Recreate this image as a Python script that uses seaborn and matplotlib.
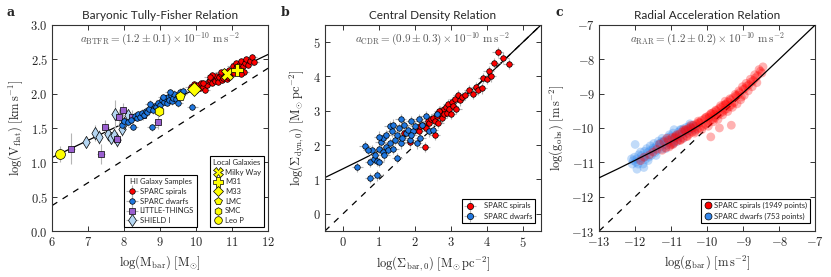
#!/usr/bin/env python
# -*- coding: utf-8 -*-

"""
Three scaling relations of rotating galaxies: BTFR, CDR and RAR
"""

import matplotlib
matplotlib.use("Agg")
import matplotlib.pyplot as plt
from matplotlib.lines import Line2D
from matplotlib.ticker import FuncFormatter, MultipleLocator
import seaborn as sns

# ---------------- panel a : baryonic Tully-Fisher ----------------
spiral_m = [9.85, 9.95, 10.00, 10.05, 10.10, 10.15, 10.20, 10.25, 10.30, 10.35,
            10.40, 10.45, 10.50, 10.52, 10.55, 10.60, 10.62, 10.65, 10.70, 10.72,
            10.75, 10.80, 10.82, 10.85, 10.90, 10.92, 10.95, 11.00, 11.02, 11.05,
            11.10, 11.12, 11.15, 11.20, 11.22, 11.25, 11.30, 11.32, 11.35, 11.40,
            11.45, 11.50, 11.55, 11.60, 10.45, 10.20, 10.90, 11.25, 10.38, 10.68]
spiral_v = [2.10, 2.14, 2.06, 2.12, 2.08, 2.15, 2.10, 2.05, 2.13, 2.18,
            2.20, 2.16, 2.22, 2.19, 2.25, 2.21, 2.17, 2.24, 2.28, 2.20,
            2.23, 2.32, 2.26, 2.21, 2.30, 2.35, 2.27, 2.33, 2.40, 2.30,
            2.38, 2.44, 2.34, 2.42, 2.36, 2.47, 2.40, 2.32, 2.45, 2.50,
            2.42, 2.48, 2.53, 2.46, 2.27, 2.16, 2.24, 2.29, 2.24, 2.31]

dwarf_m = [7.95, 8.00, 8.10, 8.20, 8.25, 8.30, 8.35, 8.40, 8.45, 8.50,
           8.55, 8.60, 8.65, 8.70, 8.78, 8.80, 8.85, 8.90, 8.95, 9.00,
           9.05, 9.10, 9.15, 9.20, 9.22, 9.25, 9.30, 9.32, 9.35, 9.40,
           9.45, 9.50, 9.55, 9.60, 9.65, 9.90, 9.50, 9.08, 8.72, 9.28]
dwarf_v = [1.55, 1.60, 1.58, 1.62, 1.52, 1.68, 1.65, 1.70, 1.66, 1.72,
           1.69, 1.75, 1.73, 1.78, 1.51, 1.76, 1.82, 1.80, 1.86, 1.84,
           1.90, 1.88, 1.93, 1.87, 1.95, 1.91, 1.98, 1.89, 1.94, 2.00,
           1.92, 1.97, 2.03, 1.99, 2.04, 1.81, 1.86, 1.95, 1.85, 2.02]

lt_m = [6.54, 7.36, 7.48, 7.81, 7.85, 7.96, 8.22, 8.52, 8.94]
lt_v = [1.20, 1.12, 1.52, 1.34, 1.66, 1.76, 1.66, 1.69, 1.58]
lt_verr = [0.22, 0.15, 0.10, 0.10, 0.12, 0.10, 0.10, 0.08, 0.10]

shield_m = [6.95, 7.20, 7.30, 7.55, 7.65, 7.72, 7.80, 7.95, 8.00, 7.75, 8.12]
shield_v = [1.30, 1.43, 1.37, 1.41, 1.36, 1.40, 1.33, 1.48, 1.57, 1.70, 1.69]
shield_verr = [0.08, 0.12, 0.10, 0.10, 0.08, 0.12, 0.10, 0.10, 0.10, 0.20, 0.08]

local_names = ["Milky Way", "M31", "M33", "LMC", "SMC", "Leo P"]
local_m = [10.85, 11.15, 9.93, 9.56, 8.98, 6.22]
local_v = [2.29, 2.35, 2.07, 1.97, 1.75, 1.12]
local_markers = ["X", "P", "D", "p", "h", "o"]

btfr_fit_m = [6.0, 12.0]
btfr_fit_v = [1.07, 2.57]
btfr_newton_m = [6.0, 12.0]
btfr_newton_v = [0.37, 2.37]

# ---------------- panel b : central density relation ----------------
cdr_dw_bar = [0.40, 0.60, 0.75, 0.75, 0.80, 0.85, 0.90, 0.95, 0.95, 1.00,
              1.00, 1.05, 1.10, 1.10, 1.15, 1.20, 1.20, 1.25, 1.30, 1.35,
              1.40, 1.45, 1.50, 1.50, 1.55, 1.60, 1.65, 1.70, 1.75, 1.80,
              1.85, 1.90, 1.95, 2.00, 2.05, 2.10, 2.20, 2.30, 2.40, 2.50,
              1.30, 1.00, 0.70, 2.15, 1.60, 2.60, 1.90, 1.40]
cdr_dw_dyn = [1.37, 1.98, 1.05, 1.50, 1.85, 1.60, 1.72, 1.12, 1.55, 1.50,
              1.90, 2.10, 1.80, 2.20, 1.70, 1.95, 2.30, 1.85, 2.05, 2.40,
              1.90, 2.15, 1.62, 2.30, 2.50, 2.05, 2.20, 2.60, 2.35, 2.45,
              2.15, 2.70, 2.40, 2.55, 2.05, 2.75, 2.60, 2.85, 2.40, 2.45,
              2.55, 2.25, 1.85, 2.20, 2.75, 2.90, 2.30, 2.60]

cdr_sp_bar = [1.70, 1.85, 2.00, 2.10, 2.20, 2.25, 2.30, 2.35, 2.40, 2.45,
              2.50, 2.55, 2.60, 2.62, 2.65, 2.70, 2.72, 2.75, 2.80, 2.82,
              2.85, 2.90, 2.92, 2.95, 3.00, 3.02, 3.05, 3.10, 3.15, 3.20,
              3.25, 3.30, 3.40, 3.50, 3.60, 3.70, 3.75, 3.85, 3.90, 4.00,
              4.05, 4.10, 4.20, 4.30, 4.45, 4.60, 2.27, 2.15, 2.55, 2.68]
cdr_sp_dyn = [2.35, 2.10, 2.45, 2.40, 2.60, 2.55, 2.50, 2.70, 2.65, 2.75,
              2.80, 2.70, 2.90, 2.85, 2.65, 3.00, 2.95, 2.80, 3.05, 2.90,
              3.10, 2.95, 3.20, 3.05, 2.90, 3.25, 3.15, 3.35, 3.05, 3.45,
              3.30, 3.40, 3.45, 3.60, 3.50, 3.70, 3.60, 3.65, 3.95, 3.92,
              4.15, 4.00, 4.40, 4.72, 4.55, 4.37, 1.95, 2.55, 2.30, 3.00]

cdr_fit_bar = [-0.5, 0.0, 0.5, 1.0, 1.5, 2.0, 2.5, 3.0, 3.5, 4.0, 4.5, 5.0, 5.5]
cdr_fit_dyn = [1.056, 1.311, 1.569, 1.834, 2.110, 2.405, 2.729, 3.100, 3.527,
               4.003, 4.500, 5.000, 5.500]
cdr_newton = [-0.5, 5.5]

# ---------------- panel c : radial acceleration relation ----------------
rar_sp_gbar = [-11.32, -11.25, -11.20, -11.15, -11.08, -11.02, -10.98, -10.93, -10.88, -10.82,
               -10.78, -10.74, -10.70, -10.66, -10.62, -10.57, -10.53, -10.50, -10.46, -10.42,
               -10.38, -10.34, -10.30, -10.27, -10.23, -10.20, -10.16, -10.12, -10.08, -10.05,
               -10.02, -9.98, -9.95, -9.92, -9.88, -9.85, -9.82, -9.78, -9.75, -9.72,
               -9.68, -9.65, -9.62, -9.58, -9.55, -9.52, -9.48, -9.45, -9.42, -9.38,
               -9.35, -9.32, -9.28, -9.25, -9.20, -9.15, -9.10, -9.05, -9.00, -8.95,
               -8.90, -8.84, -8.78, -8.72, -8.66, -8.60, -8.52, -8.45, -9.33, -9.66,
               -9.90, -11.75, -11.60, -10.60, -10.20, -9.80, -9.50, -10.90, -10.40, -9.95,
               -10.85, -10.75, -10.65, -10.55, -10.45, -10.35, -10.25, -10.15, -10.05, -9.97,
               -9.90, -9.83, -9.76, -9.70, -9.63, -9.57, -9.50, -9.43, -9.37, -9.30,
               -9.22, -9.17, -9.12, -9.07, -9.02, -8.97, -8.92, -8.86, -8.80, -8.75,
               -8.68, -8.62, -8.56, -8.48, -11.05, -11.12, -10.95, -11.40, -11.50, -11.85]
rar_sp_gobs = [-10.47, -10.65, -10.40, -10.58, -10.36, -10.50, -10.28, -10.45, -10.25, -10.38,
               -10.18, -10.36, -10.12, -10.30, -10.08, -10.24, -10.02, -10.18, -9.98, -10.12,
               -9.92, -10.10, -9.88, -10.04, -9.84, -10.00, -9.78, -9.96, -9.74, -9.90,
               -9.68, -9.86, -9.64, -9.80, -9.58, -9.75, -9.54, -9.70, -9.50, -9.64,
               -9.44, -9.58, -9.40, -9.54, -9.34, -9.48, -9.30, -9.44, -9.24, -9.38,
               -9.18, -9.32, -9.12, -9.26, -9.06, -9.04, -8.97, -9.10, -8.88, -8.85,
               -8.78, -8.74, -8.66, -8.62, -8.54, -8.48, -8.35, -8.22, -9.92, -10.00,
               -10.26, -10.85, -10.78, -10.05, -9.85, -9.60, -9.32, -10.28, -10.00, -9.70,
               -10.20, -10.35, -10.05, -10.25, -9.92, -10.15, -9.80, -10.05, -9.70, -9.95,
               -9.58, -9.82, -9.48, -9.75, -9.35, -9.62, -9.22, -9.52, -9.15, -9.40,
               -9.02, -9.30, -8.92, -9.18, -8.80, -9.05, -8.70, -8.92, -8.58, -8.80,
               -8.45, -8.68, -8.30, -8.40, -10.55, -10.30, -10.48, -10.62, -10.70, -10.95]

rar_dw_gbar = [-12.10, -12.08, -12.02, -11.98, -11.95, -11.90, -11.88, -11.85, -11.80, -11.78,
               -11.74, -11.70, -11.68, -11.64, -11.60, -11.58, -11.55, -11.50, -11.48, -11.45,
               -11.40, -11.38, -11.35, -11.30, -11.28, -11.25, -11.20, -11.18, -11.15, -11.10,
               -11.08, -11.05, -11.00, -10.98, -10.95, -10.90, -10.88, -10.85, -10.80, -10.78,
               -10.75, -10.70, -10.66, -10.62, -10.58, -10.54, -10.50, -10.45, -10.40, -10.32,
               -12.05, -11.95, -11.92, -11.82, -11.72, -11.66, -11.62, -11.52, -11.44, -11.42,
               -11.32, -11.26, -11.22, -11.12, -11.02, -10.92, -10.82, -10.72, -10.68, -10.56,
               -12.00, -11.76, -10.48, -10.36, -10.92]
rar_dw_gobs = [-10.90, -11.05, -10.85, -11.00, -11.20, -10.78, -10.95, -10.70, -10.88, -11.05,
               -10.68, -10.82, -10.60, -10.95, -10.66, -10.52, -10.80, -10.58, -10.45, -10.72,
               -10.50, -10.65, -10.38, -10.55, -10.42, -10.30, -10.48, -10.36, -10.60, -10.28,
               -10.42, -10.20, -10.35, -10.48, -10.15, -10.30, -10.22, -10.40, -10.12, -10.25,
               -10.05, -10.18, -10.02, -10.12, -9.98, -10.08, -9.95, -10.02, -9.92, -9.95,
               -10.95, -10.90, -11.05, -10.80, -10.92, -10.72, -10.85, -10.65, -10.58, -10.80,
               -10.45, -10.62, -10.38, -10.50, -10.25, -10.42, -10.30, -10.05, -10.30, -10.15,
               -10.48, -11.15, -9.88, -10.05, -10.05]

rar_fit_gbar = [-13, -12.5, -12, -11.5, -11, -10.75, -10.5, -10.25, -10, -9.75,
                -9.5, -9.25, -9, -8.5, -8, -7.5, -7]
rar_fit_gobs = [-11.45, -11.20, -10.94, -10.676, -10.40, -10.254, -10.104, -9.945,
                -9.777, -9.598, -9.405, -9.197, -8.975, -8.497, -8.0, -7.5, -7.0]
rar_newton = [-13, -9]

RED = "#ff0000"
BLUE = "#1f77e0"
CLOUD_BLUE = "#3388ee"
PURPLE = "#9a5fd0"
LIGHTBLUE = "#b5d6f2"
YELLOW = "#ffff00"
ERRGRAY = "#b4b4b4"

sns.set_style("ticks")
plt.rcParams["font.family"] = ["Lato", "DejaVu Sans"]
plt.rcParams["mathtext.fontset"] = "cm"
plt.rcParams["xtick.direction"] = "in"
plt.rcParams["ytick.direction"] = "in"
plt.rcParams["xtick.top"] = True
plt.rcParams["ytick.right"] = True
plt.rcParams["axes.linewidth"] = 0.8
plt.rcParams["axes.edgecolor"] = "#333333"

fig = plt.figure(figsize=(8.31, 2.77), dpi=100)
bottom, height, width = 0.166, 0.744, 0.26
ax_a = fig.add_axes([0.0626, bottom, width, height])
ax_b = fig.add_axes([0.391, bottom, width, height])
ax_c = fig.add_axes([0.721, bottom, width, height])


def cm_ticks(ax, fmt_x="{:g}", fmt_y="{:g}"):
    ax.xaxis.set_major_formatter(FuncFormatter(lambda v, p: "$" + fmt_x.format(v) + "$"))
    ax.yaxis.set_major_formatter(FuncFormatter(lambda v, p: "$" + fmt_y.format(v) + "$"))
    ax.tick_params(labelsize=9, length=3.5, width=0.7, color="#333333", pad=3)


def points(ax, x, y, color, marker, size, xerr=None, yerr=None, z=3, alpha=1.0, edge="k"):
    if xerr is not None or yerr is not None:
        ax.errorbar(x, y, xerr=xerr, yerr=yerr, fmt="none", ecolor=ERRGRAY,
                    elinewidth=0.8, zorder=z - 1, alpha=alpha)
    sns.scatterplot(x=x, y=y, ax=ax, color=color, marker=marker, s=size,
                    edgecolor=edge, linewidth=0.5 if edge != "none" else 0,
                    alpha=alpha, zorder=z, legend=False)


def make_legend(ax, handles, labels, anchor, title=None, tpad=0.4, spacing=0.35,
                hlen=1.2):
    leg = ax.legend(handles, labels, title=title, loc="lower right",
                    bbox_to_anchor=anchor, fontsize=5.5, title_fontsize=5.5,
                    fancybox=False, edgecolor="k", framealpha=1, handletextpad=tpad,
                    borderpad=0.4, labelspacing=spacing, handlelength=hlen)
    leg.get_frame().set_linewidth(0.8)
    return leg


err_kw = dict(linestyle="none", markeredgecolor="k", markeredgewidth=0.5)


def err_handle(color, marker, msize):
    cross = Line2D([], [], marker="+", color=ERRGRAY, markersize=9,
                   markeredgewidth=0.8, linestyle="none")
    dot = Line2D([], [], marker=marker, color=color, markersize=msize, **err_kw)
    return (cross, dot)


# ---- a ----
ax = ax_a
sns.lineplot(x=btfr_fit_m, y=btfr_fit_v, ax=ax, color="k", lw=0.9, zorder=1)
ax.plot(btfr_newton_m, btfr_newton_v, color="k", lw=0.9, dashes=(5, 5), zorder=1)
points(ax, shield_m, shield_v, LIGHTBLUE, "d", 38, xerr=0.1, yerr=shield_verr)
points(ax, lt_m, lt_v, PURPLE, "s", 18, xerr=0.1, yerr=lt_verr)
points(ax, dwarf_m, dwarf_v, BLUE, "o", 16, xerr=0.15, yerr=0.05)
points(ax, spiral_m, spiral_v, RED, "o", 16, xerr=0.15, yerr=0.04)
ax.errorbar(local_m[-1], local_v[-1], yerr=0.12, fmt="none", ecolor=ERRGRAY,
            elinewidth=0.8, zorder=2)
for m, v, mk in zip(local_m, local_v, local_markers):
    size = 75 if mk in ("X", "P") else 50
    points(ax, [m], [v], YELLOW, mk, size, z=5)
ax.set_xlim(6, 12)
ax.set_ylim(0, 3)
ax.xaxis.set_major_locator(MultipleLocator(1))
ax.yaxis.set_major_locator(MultipleLocator(0.5))
cm_ticks(ax, "{:g}", "{:.1f}")
ax.set_xlabel(r"$\log(\mathrm{M_{bar}})\ [\mathrm{M_{\odot}}]$", fontsize=9)
ax.set_ylabel(r"$\log(\mathrm{V_{flat}})\ [\mathrm{km\,s^{-1}}]$", fontsize=9)
ax.set_title("Baryonic Tully-Fisher Relation", fontsize=8.5, pad=4)
ax.text(0.5, 0.93, r"$a_{\mathrm{BTFR}}=(1.2\pm0.1)\times10^{-10}\ \mathrm{m\,s^{-2}}$",
        transform=ax.transAxes, ha="center", va="center", fontsize=8, color="#555555")

hi_handles = [err_handle(RED, "o", 4), err_handle(BLUE, "o", 4),
              err_handle(PURPLE, "s", 4), err_handle(LIGHTBLUE, "d", 6)]
hi_labels = ["SPARC spirals", "SPARC dwarfs", "LITTLE-THINGS", "SHIELD I"]
leg1 = make_legend(ax, hi_handles, hi_labels, (0.688, 0.0), title="HI Galaxy Samples")
ax.add_artist(leg1)
loc_handles = [Line2D([], [], marker=mk, color=YELLOW,
                      markersize=6.5 if mk in ("X", "P") else 5.5, **err_kw)
               for mk in local_markers]
make_legend(ax, loc_handles, local_names, (1.0, 0.0), title="Local Galaxies")

# ---- b ----
ax = ax_b
sns.lineplot(x=cdr_fit_bar, y=cdr_fit_dyn, ax=ax, color="k", lw=0.9, zorder=1)
ax.plot(cdr_newton, cdr_newton, color="k", lw=0.9, dashes=(5, 5), zorder=1)
points(ax, cdr_sp_bar, cdr_sp_dyn, RED, "o", 16, xerr=0.15, yerr=0.15)
points(ax, cdr_dw_bar, cdr_dw_dyn, BLUE, "o", 16, xerr=0.15, yerr=0.15)
ax.set_xlim(-0.5, 5.5)
ax.set_ylim(-0.5, 5.5)
ax.xaxis.set_major_locator(MultipleLocator(1))
ax.yaxis.set_major_locator(MultipleLocator(1))
cm_ticks(ax)
ax.set_xlabel(r"$\log(\Sigma_{\mathrm{bar},0})\ [\mathrm{M_{\odot}\,pc^{-2}}]$", fontsize=9)
ax.set_ylabel(r"$\log(\Sigma_{\mathrm{dyn},0})\ [\mathrm{M_{\odot}\,pc^{-2}}]$", fontsize=9)
ax.set_title("Central Density Relation", fontsize=8.5, pad=4)
ax.text(0.5, 0.93, r"$a_{\mathrm{CDR}}=(0.9\pm0.3)\times10^{-10}\ \mathrm{m\,s^{-2}}$",
        transform=ax.transAxes, ha="center", va="center", fontsize=8, color="#555555")
make_legend(ax, [err_handle(RED, "o", 4.5), err_handle(BLUE, "o", 4.5)],
            ["SPARC spirals", "SPARC dwarfs"], (0.99, 0.02), tpad=1.2, spacing=0.5)

# ---- c ----
ax = ax_c
points(ax, rar_dw_gbar, rar_dw_gobs, CLOUD_BLUE, "o", 40, z=2, alpha=0.3, edge="none")
points(ax, rar_sp_gbar, rar_sp_gobs, RED, "o", 40, z=2, alpha=0.3, edge="none")
sns.lineplot(x=rar_fit_gbar, y=rar_fit_gobs, ax=ax, color="k", lw=0.9, zorder=4)
ax.plot(rar_newton, rar_newton, color="k", lw=0.9, dashes=(5, 5), zorder=1)
ax.set_xlim(-13, -7)
ax.set_ylim(-13, -7)
ax.xaxis.set_major_locator(MultipleLocator(1))
ax.yaxis.set_major_locator(MultipleLocator(1))
cm_ticks(ax)
ax.set_xlabel(r"$\log(\mathrm{g_{bar}})\ [\mathrm{m\,s^{-2}}]$", fontsize=9)
ax.set_ylabel(r"$\log(\mathrm{g_{obs}})\ [\mathrm{m\,s^{-2}}]$", fontsize=9)
ax.set_title("Radial Acceleration Relation", fontsize=8.5, pad=4)
ax.text(0.5, 0.93, r"$a_{\mathrm{RAR}}=(1.2\pm0.2)\times10^{-10}\ \mathrm{m\,s^{-2}}$",
        transform=ax.transAxes, ha="center", va="center", fontsize=8, color="#555555")
c_handles = [Line2D([], [], marker="o", color=RED, markersize=5, **err_kw),
             Line2D([], [], marker="o", color=CLOUD_BLUE, markersize=5, **err_kw)]
make_legend(ax, c_handles, ["SPARC spirals (1949 points)", "SPARC dwarfs (753 points)"],
            (0.995, 0.02), tpad=0.3, spacing=0.5, hlen=1.0)

for lab, xpos in zip(["a", "b", "c"], [0.008, 0.338, 0.668]):
    fig.text(xpos, 0.955, lab, fontsize=9, fontweight="bold", family="DejaVu Serif",
             ha="left", va="center")

fig.savefig("out.png", dpi=100)
